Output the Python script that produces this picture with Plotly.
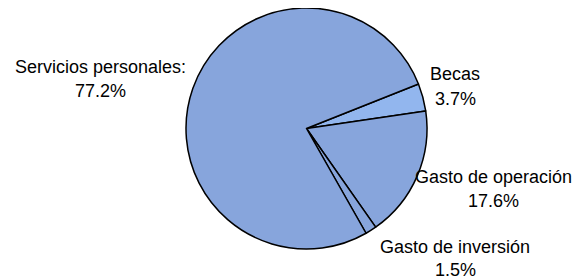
import plotly.graph_objects as go

categories = ["Becas", "Gasto de operación", "Gasto de inversión", "Servicios personales"]
values = [3.7, 17.6, 1.5, 77.2]
name_lines = ["Becas", "Gasto de operación", "Gasto de inversión", "Servicios personales:"]
pct_lines = ["3.7%", "17.6%", "1.5%", "77.2%"]

W, H = 581, 280
OFF = 8  # page body margin offset of the plot div

def px_x(x):
    return (x - OFF) / W

def px_y(y):
    return 1 - (y - OFF) / H

fig = go.Figure(go.Pie(
    labels=categories, values=values, sort=False, direction="clockwise",
    rotation=68.3, textinfo="none", hoverinfo="label+percent",
    marker=dict(colors=["#92b6ee", "#87a5dc", "#87a5dc", "#87a5dc"],
                line=dict(color="#000000", width=1.5)),
    domain=dict(x=[px_x(186), px_x(427)], y=[px_y(249), px_y(8)]),
    showlegend=False,
))

# label centres (pixels): name line y, percent line y
label_pos = [(455, 74, 99), (493, 177, 201), (455, 247, 270), (100, 67, 91)]
for name, pct, (cx, y1, y2) in zip(name_lines, pct_lines, label_pos):
    for txt, yy in ((name, y1), (pct, y2)):
        fig.add_annotation(x=px_x(cx), y=px_y(yy), xref="paper", yref="paper",
                           text=txt, showarrow=False, xanchor="center", yanchor="middle",
                           font=dict(family="Liberation Sans, Arial", size=18, color="#000000"))

fig.update_layout(width=W, height=H, margin=dict(l=0, r=0, t=0, b=0),
                  paper_bgcolor="white", plot_bgcolor="white")
fig.write_html("out.html")
